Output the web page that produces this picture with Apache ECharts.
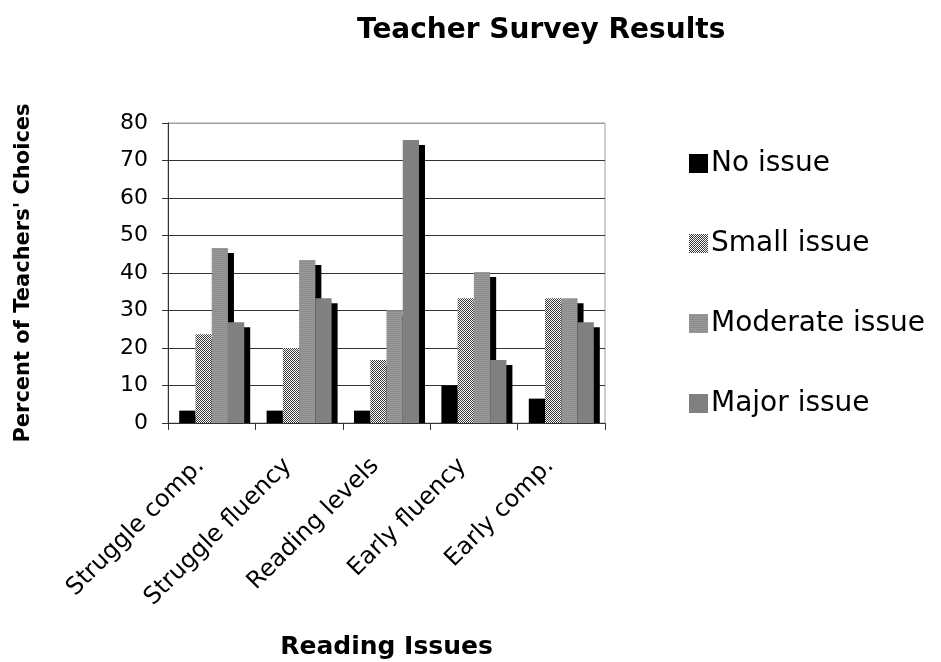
<!DOCTYPE html>
<html>
<head>
<meta charset="utf-8">
<script src="https://cdn.jsdelivr.net/npm/echarts@6/dist/echarts.min.js"></script>
<style>
  html, body { margin: 0; padding: 0; background: #fff; }
  #chart { width: 941px; height: 662px; }
</style>
</head>
<body>
<div id="chart"></div>
<script>
// Survey data: share of teachers (%) choosing each rating per reading issue
const categories = ['Struggle comp.', 'Struggle fluency', 'Reading levels', 'Early fluency', 'Early comp.'];
const seriesNames = ['No issue', 'Small issue', 'Moderate issue', 'Major issue'];
const noIssue = [3.3, 3.3, 3.3, 10.0, 6.5];
const smallIssue = [23.7, 20.0, 16.8, 33.3, 33.3];
const moderateIssue = [46.7, 43.5, 30.1, 40.3, 33.3];
const majorIssue = [26.9, 33.3, 75.5, 16.8, 26.9];
const yTicks = [0, 10, 20, 30, 40, 50, 60, 70, 80];

const FONT = 'DejaVu Sans';

// Fill patterns in the style of old monochrome spreadsheet charts
function makePattern(w, h, painter) {
  const c = document.createElement('canvas');
  c.width = w; c.height = h;
  painter(c.getContext('2d'));
  return { image: c, repeat: 'repeat' };
}
const checkerFill = makePattern(2, 2, g => {
  g.fillStyle = '#ffffff'; g.fillRect(0, 0, 2, 2);
  g.fillStyle = '#3a3a3a'; g.fillRect(0, 0, 1, 1); g.fillRect(1, 1, 1, 1);
});
const stripeFill = makePattern(2, 2, g => {
  g.fillStyle = '#9a9a9a'; g.fillRect(0, 0, 2, 1);
  g.fillStyle = '#8c8c8c'; g.fillRect(0, 1, 2, 1);
});
const fills = ['#000000', checkerFill, stripeFill, '#808080'];
const seriesData = [noIssue, smallIssue, moderateIssue, majorIssue];

const GROUP_GAP = 0.256;   // fraction of each category left empty
const SHADOW_DX = 6, SHADOW_DY = 5;

// Each bar gets a solid black drop shadow, kept above the category axis
function makeRender(seriesIdx) {
  return function (params, api) {
    const cat = api.value(0);
    const val = api.value(1);
    const top = api.coord([cat, val]);
    const base = api.coord([cat, 0]);
    const band = api.size([1, 0])[0];
    const bw = band * (1 - GROUP_GAP) / seriesNames.length;
    const x0 = top[0] - bw * seriesNames.length / 2 + seriesIdx * bw;
    const h = base[1] - top[1];
    const children = [];
    if (h - SHADOW_DY > 0) {
      children.push({
        type: 'rect',
        shape: { x: x0 + SHADOW_DX, y: top[1] + SHADOW_DY, width: bw, height: h - SHADOW_DY },
        style: { fill: '#000' }
      });
    }
    children.push({
      type: 'rect',
      shape: { x: x0, y: top[1], width: bw, height: h },
      style: { fill: api.visual('color') }
    });
    return { type: 'group', children: children };
  };
}

const chart = echarts.init(document.getElementById('chart'), null, { renderer: 'canvas' });

const option = {
  animation: false,
  backgroundColor: '#fff',
  title: {
    text: 'Teacher Survey Results',
    left: 352, top: 12,
    textStyle: { fontFamily: FONT, fontSize: 28, fontWeight: 'bold', color: '#000' }
  },
  legend: {
    orient: 'vertical',
    left: 684, top: 143,
    icon: 'rect',
    itemWidth: 19, itemHeight: 19,
    itemGap: 49,
    data: seriesNames,
    textStyle: { fontFamily: FONT, fontSize: 28, color: '#000', lineHeight: 31, padding: [0, 0, 0, -2] }
  },
  grid: {
    left: 168, right: 336, top: 123, bottom: 239,
    show: true, borderColor: '#a0a0a0', borderWidth: 1, backgroundColor: 'transparent'
  },
  xAxis: {
    type: 'category',
    data: categories,
    boundaryGap: true,
    name: 'Reading Issues',
    nameLocation: 'middle',
    nameGap: 212,
    nameTextStyle: { fontFamily: FONT, fontSize: 25, fontWeight: 'bold', color: '#000' },
    axisLine: { lineStyle: { color: '#333', width: 1 } },
    axisTick: { show: true, interval: 0, length: 7, lineStyle: { color: '#333' } },
    axisLabel: {
      interval: 0, rotate: 45, margin: 28,
      padding: [0, 16, 0, 0],
      fontFamily: FONT, fontSize: 24, color: '#000'
    },
    splitLine: { show: false }
  },
  yAxis: {
    type: 'value',
    min: yTicks[0], max: yTicks[yTicks.length - 1], interval: 10,
    name: "Percent of Teachers' Choices",
    nameLocation: 'middle',
    nameRotate: 90,
    nameGap: 134,
    nameTextStyle: { fontFamily: FONT, fontSize: 21, fontWeight: 'bold', color: '#000' },
    axisLine: { show: true, lineStyle: { color: '#333', width: 1 } },
    axisTick: { show: true, length: 6, lineStyle: { color: '#333' } },
    axisLabel: {
      margin: 20, fontFamily: FONT, fontSize: 22, color: '#000',
      formatter: v => (yTicks.indexOf(v) >= 0 ? String(v) : '')
    },
    splitLine: {
      show: true,
      lineStyle: { color: ['#333', '#333', '#333', '#333', '#333', '#333', '#333', '#333', '#a0a0a0'], width: 1 }
    }
  },
  series: seriesNames.map((name, i) => ({
    name: name,
    type: 'custom',
    renderItem: makeRender(i),
    itemStyle: { color: fills[i] },
    encode: { x: 0, y: 1 },
    data: seriesData[i].map((v, j) => [j, v])
  }))
};

chart.setOption(option);
</script>
</body>
</html>
